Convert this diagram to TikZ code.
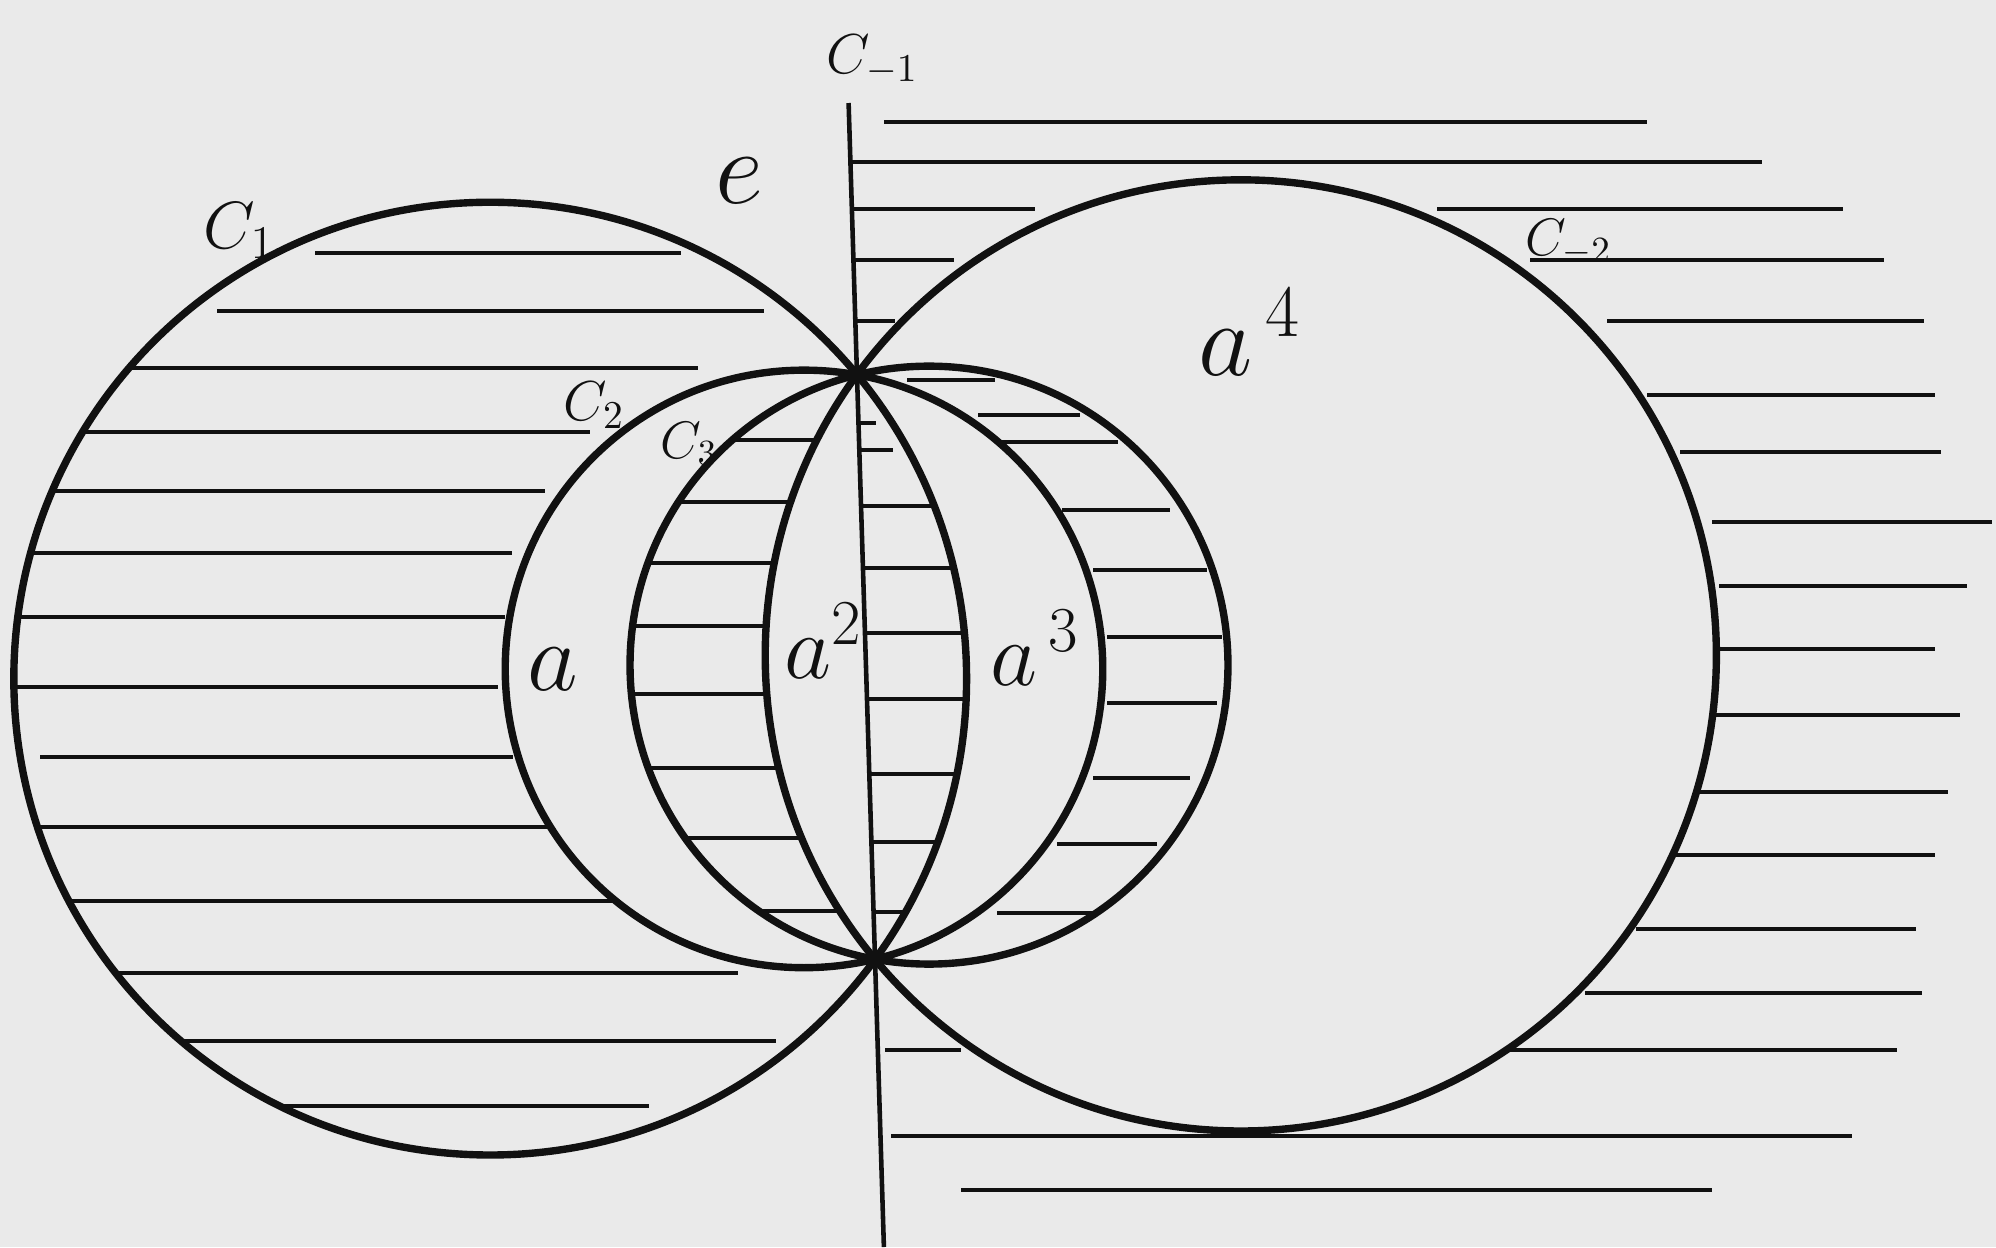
\RequirePackage{fix-cm}
\documentclass[tikz,border=0pt]{standalone}
\usepackage{amsmath}
\usetikzlibrary{calc}
\definecolor{paper}{HTML}{EAEAEA}
\definecolor{ink}{HTML}{111111}
\tikzset{
  circ/.style={draw=ink, line width=2.1pt},
  pencil/.style={draw=ink, line width=1.3pt},
  hatch/.style={draw=ink, line width=1pt},
  lbl/.style={text=ink, inner sep=0pt, anchor=base west,
    font=\fontsize{#1}{#1}\selectfont},
  lbl/.default=26
}

\begin{document}
\begin{tikzpicture}[x=0.01cm, y=-0.01cm]
  \useasboundingbox (0,0) rectangle (1996,1247);
  \fill[paper] (0,0) rectangle (1996,1247);

  % the two common points and the centres of the pencil
  \coordinate (P) at (857,375);
  \coordinate (Q) at (875,959);
  \coordinate (top) at (848.6,103);
  \coordinate (bot) at (883.9,1247);
  \coordinate (o1) at (490.2,678.6);
  \coordinate (o2) at (804.0,668.9);
  \coordinate (o3) at (929.0,665.1);
  \coordinate (om2) at (1240.8,655.4);

  % hatching: odd number of discs / half plane
  \begin{scope}[even odd rule]
    \clip
      (o1) circle[radius=4.761cm]
      (o2) circle[radius=2.986cm]
      (o3) circle[radius=2.988cm]
      (om2) circle[radius=4.753cm]
      (842.4,-100) -- (888.6,1400) -- (2100,1400) -- (2100,-100) -- cycle;
    % inside C_1
    \foreach \y/\xa/\xb in {253/315/681, 311/217/764, 368/0/698, 432/0/590,
      491/0/545, 553/0/512, 617/0/505, 687/0/498, 757/40/513, 827/0/547,
      901/0/613, 973/0/738, 1041/0/776, 1106/0/649}
      \draw[hatch] (\xa,\y) -- (\xb,\y);
    % inside C_3, left of the line
    \foreach \y in {440,502,563,626,694,768,838,911}
      \draw[hatch] (625,\y) -- (855,\y);
    % lens, right of the line
    \foreach \y/\xb in {423/876, 450/893, 506/970, 568/970, 633/970,
      699/970, 774/970, 842/970, 912/970}
      \draw[hatch] (850,\y) -- (\xb,\y);
    % between C_2 and C_3
    \foreach \y/\xa/\xb in {380/907/995, 415/978/1080, 442/987/1118,
      510/1062/1170, 570/1093/1207, 637/1107/1222, 703/1107/1217,
      778/1093/1190, 844/1057/1157, 913/997/1105}
      \draw[hatch] (\xa,\y) -- (\xb,\y);
    % outside C_{-2}
    \foreach \y/\xa/\xb in {122/884/1647, 162/851/1762, 209/851/1035,
      209/1437/1843, 260/851/954, 260/1530/1884, 321/851/895,
      321/1607/1924, 395/1647/1935, 452/1680/1941, 522/1712/1992,
      586/1719/1967, 649/1719/1935, 715/1712/1960, 792/1693/1948,
      855/1674/1935, 929/1636/1916, 993/1585/1922, 1050/885/961,
      1050/1502/1897, 1136/891/1852, 1190/961/1712}
      \draw[hatch] (\xa,\y) -- (\xb,\y);
  \end{scope}

  \foreach \c/\r in {o1/4.761, o2/2.986, o3/2.988, om2/4.753}
    \draw[circ] (\c) circle[radius=\r cm];
  \draw[pencil] (top) -- (bot);

  \node[lbl=16] (lCm1) at (826,73) {$C_{-1}$};
  \node[lbl=30] (le) at (715,203) {$e$};
  \node[lbl=19] (lC1) at (203,248) {$C_1$};
  \node[lbl=16] (lC2) at (563,420) {$C_2$};
  \node[lbl=15] (lC3) at (660,458) {$C_3$};
  \node[lbl=15] (lCm2) at (1525,255) {$C_{-2}$};
  \node[lbl=28] (la) at (527,690) {$a$};
  \node[lbl=26] (la2) at (784,678) {$a^2$};
  \node[lbl=26] (la3) at (990,685) {$a^{\,3}$};
  \node[lbl=30] (la4) at (1198,375) {$a^{\,4}$};
\end{tikzpicture}
\end{document}
